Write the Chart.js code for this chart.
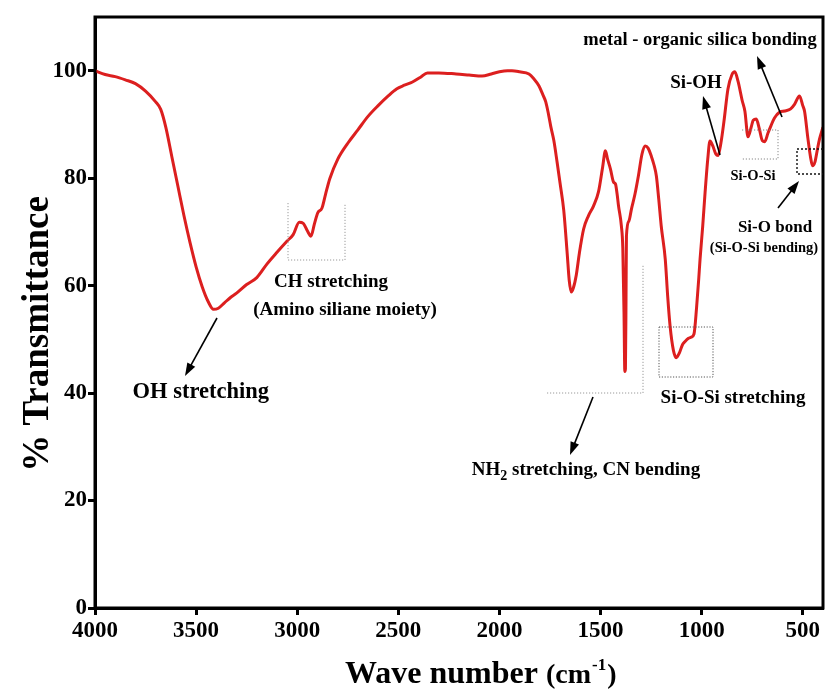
<!DOCTYPE html>
<html>
<head>
<meta charset="utf-8">
<title>FTIR spectrum</title>
<script src="https://cdn.jsdelivr.net/npm/chart.js@4.4.0/dist/chart.umd.min.js"></script>
<style>
  html, body { margin: 0; padding: 0; background: #fff; }
  #wrap { width: 825px; height: 690px; }
</style>
</head>
<body>
<div id="wrap"><canvas id="ftir" width="825" height="690"></canvas></div>
<script>
/* ---------- data ---------- */
const waveNumbers = [
  4000, 3950, 3900, 3850, 3800, 3750, 3700, 3675, 3650, 3620, 3590, 3560, 3530, 3500, 3470, 3440,
  3414, 3390, 3360, 3330, 3300, 3250, 3200, 3150, 3100, 3050, 3020, 2990, 2970, 2950, 2932, 2915,
  2898, 2878, 2860, 2839, 2800, 2750, 2700, 2650, 2600, 2550, 2509, 2470, 2430, 2390, 2356, 2300,
  2214, 2150, 2086, 2040, 2000, 1960, 1938, 1900, 1854, 1830, 1805, 1785, 1771, 1758, 1746, 1731,
  1715, 1700, 1682, 1665, 1655, 1645, 1635, 1620, 1605, 1584, 1560, 1535, 1510, 1490, 1476, 1465,
  1451, 1436, 1426, 1418, 1411, 1397, 1390, 1384, 1380, 1377, 1374, 1372, 1360, 1347, 1330, 1313,
  1295, 1279, 1265, 1249, 1236, 1224, 1212, 1200, 1180, 1168, 1156, 1140, 1126, 1110, 1095, 1082,
  1065, 1052, 1038, 1025, 1015, 1008, 995, 983, 970, 959, 945, 930, 919, 905, 890, 870,
  850, 836, 820, 800, 786, 771, 755, 745, 730, 715, 700, 688, 672, 658, 640, 614,
  590, 560, 540, 516, 500, 491, 475, 462, 452, 440, 428, 417, 400
];
const transmittance = [
  100.0, 99.3, 98.9, 98.3, 97.6, 96.2, 94.2, 92.8, 89.5, 84.0, 78.5, 73.0, 68.0, 63.5, 59.8, 57.0,
  55.6, 55.8, 56.8, 57.8, 58.6, 60.2, 61.5, 64.0, 66.2, 68.3, 69.5, 71.8, 71.6, 70.2, 69.2, 71.5,
  73.6, 74.4, 77.0, 79.9, 83.5, 86.5, 89.0, 91.5, 93.5, 95.3, 96.6, 97.3, 97.9, 98.8, 99.6, 99.6,
  99.4, 99.2, 99.0, 99.4, 99.8, 100.0, 100.0, 99.8, 99.4, 98.5, 97.2, 95.5, 94.2, 92.0, 89.6, 87.0,
  83.0, 79.0, 74.0, 66.0, 61.0, 58.8, 59.5, 62.0, 66.0, 70.5, 73.0, 74.8, 77.5, 82.0, 85.1, 83.5,
  81.7, 79.3, 78.9, 77.0, 74.8, 71.1, 67.0, 55.0, 44.0, 44.5, 58.0, 69.2, 72.0, 74.3, 77.0, 80.4,
  84.5, 86.0, 85.6, 84.1, 82.5, 80.4, 76.0, 71.1, 64.9, 58.0, 52.4, 48.0, 46.6, 47.5, 49.0, 49.6,
  50.2, 50.4, 51.0, 56.0, 61.0, 64.9, 71.0, 77.4, 83.5, 86.9, 86.0, 84.5, 84.2, 86.5, 90.5, 96.6,
  99.3, 99.8, 98.0, 94.5, 92.4, 87.7, 89.5, 90.8, 91.0, 89.2, 87.0, 86.8, 88.4, 89.7, 91.2, 92.3,
  92.5, 92.9, 93.8, 95.3, 93.5, 92.4, 87.5, 84.0, 82.3, 83.0, 85.3, 87.3, 89.5
];
const xTickValues = [4000, 3500, 3000, 2500, 2000, 1500, 1000, 500];
const yTickValues = [0, 20, 40, 60, 80, 100];

const SERIF = '"Liberation Serif", "Times New Roman", serif';
const INK = "#000";
const LINE_RED = "#dc1f1f";

/* ---------- drawing helpers ---------- */
function font(size, bold = true) { return `${bold ? "bold " : ""}${size}px ${SERIF}`; }

function txt(ctx, s, x, y, size, align = "center") {
  ctx.font = font(size);
  ctx.textAlign = align;
  ctx.textBaseline = "alphabetic";
  ctx.fillStyle = INK;
  ctx.fillText(s, x, y);
}

function arrow(ctx, x1, y1, x2, y2) {
  const a = Math.atan2(y2 - y1, x2 - x1), L = 13, W = 4.5;
  ctx.save();
  ctx.strokeStyle = INK; ctx.fillStyle = INK; ctx.lineWidth = 1.6;
  ctx.beginPath();
  ctx.moveTo(x1, y1);
  ctx.lineTo(x2 - Math.cos(a) * L * 0.8, y2 - Math.sin(a) * L * 0.8);
  ctx.stroke();
  ctx.beginPath();
  ctx.moveTo(x2, y2);
  ctx.lineTo(x2 - Math.cos(a) * L - Math.sin(a) * W, y2 - Math.sin(a) * L + Math.cos(a) * W);
  ctx.lineTo(x2 - Math.cos(a) * L + Math.sin(a) * W, y2 - Math.sin(a) * L - Math.cos(a) * W);
  ctx.closePath();
  ctx.fill();
  ctx.restore();
}

function dotted(ctx, pts, color, dash = [1.2, 1.8], w = 1) {
  ctx.save();
  ctx.strokeStyle = color; ctx.lineWidth = w; ctx.setLineDash(dash);
  ctx.beginPath();
  pts.forEach(([x, y], i) => (i ? ctx.lineTo(x, y) : ctx.moveTo(x, y)));
  ctx.stroke();
  ctx.restore();
}

/* frame, axis titles and the band labels */
const decor = {
  id: "decor",
  afterDraw(chart) {
    const ctx = chart.ctx, a = chart.chartArea;
    ctx.save();

    // box round the plot
    ctx.strokeStyle = INK; ctx.lineWidth = 3;
    ctx.strokeRect(a.left, a.top, a.right - a.left, a.bottom - a.top);

    // y title
    ctx.save();
    ctx.translate(35, 334);
    ctx.rotate(-Math.PI / 2);
    txt(ctx, "% Transmittance", 0, 13, 37);
    ctx.restore();

    // x title  Wave number (cm-1)
    let x = 345;
    const by = 683;
    ctx.font = font(32); ctx.textAlign = "left"; ctx.fillStyle = INK;
    ctx.fillText("Wave number ", x, by); x += ctx.measureText("Wave number ").width;
    ctx.font = font(28);
    ctx.fillText("(cm", x, by); x += ctx.measureText("(cm").width;
    ctx.font = font(17);
    ctx.fillText("-1", x + 1, by - 13); x += ctx.measureText("-1").width + 2;
    ctx.font = font(28);
    ctx.fillText(")", x, by);

    // OH stretching
    txt(ctx, "OH stretching", 269, 398, 22.5, "right");
    arrow(ctx, 217, 318, 185, 376);

    // CH stretching bracket
    dotted(ctx, [[288, 203], [288, 260], [345, 260], [345, 203]], "#9a9a9a");
    txt(ctx, "CH stretching", 331, 287, 19);
    txt(ctx, "(Amino siliane moiety)", 345, 315, 19);

    // NH2 bracket
    dotted(ctx, [[547, 393], [643, 393], [643, 265]], "#9a9a9a");
    arrow(ctx, 593, 397, 570, 455);
    {
      const parts = [["NH", 19, 0], ["2", 14, 5], [" stretching, CN bending", 19, 0]];
      ctx.textAlign = "left";
      let w = 0;
      parts.forEach(([s, sz]) => { ctx.font = font(sz); w += ctx.measureText(s).width; });
      let px = 586 - w / 2;
      parts.forEach(([s, sz, dy]) => { ctx.font = font(sz); ctx.fillText(s, px, 475 + dy); px += ctx.measureText(s).width; });
    }

    // Si-O-Si stretching box
    dotted(ctx, [[659, 327], [713, 327], [713, 377], [659, 377], [659, 327]], "#555", [1.2, 1.6]);
    txt(ctx, "Si-O-Si stretching", 733, 403, 19);

    // Si-OH
    txt(ctx, "Si-OH", 696, 88, 19);
    arrow(ctx, 720, 155, 703, 96);

    // metal - organic silica bonding
    txt(ctx, "metal - organic silica bonding", 700, 45, 18.5);
    arrow(ctx, 782, 117, 757, 56);

    // Si-O-Si small bracket
    dotted(ctx, [[742, 130], [778, 130], [778, 159], [742, 159]], "#888");
    txt(ctx, "Si-O-Si", 753, 180, 14.5);

    // Si-O bond box (open at the frame)
    dotted(ctx, [[823, 149], [797, 149], [797, 174], [823, 174]], "#111", [2, 2], 1.4);
    arrow(ctx, 778, 208, 799, 181);
    txt(ctx, "Si-O bond", 775, 232, 17);
    txt(ctx, "(Si-O-Si bending)", 764, 252, 14.5);

    ctx.restore();
  }
};

/* ---------- chart ---------- */
const points = waveNumbers.map((w, i) => ({ x: w, y: transmittance[i] }));
const tickFont = { family: SERIF, size: 23, weight: "bold" };

new Chart(document.getElementById("ftir"), {
  type: "line",
  data: {
    datasets: [{
      data: points,
      borderColor: LINE_RED,
      borderWidth: 3,
      pointRadius: 0,
      cubicInterpolationMode: "monotone",
      fill: false,
    }],
  },
  options: {
    responsive: false,
    animation: false,
    devicePixelRatio: 1,
    layout: { padding: { left: 35, top: 17, right: 2, bottom: 0 } },
    plugins: { legend: { display: false }, tooltip: { enabled: false } },
    scales: {
      x: {
        type: "linear", reverse: true, min: 400, max: 4000,
        afterBuildTicks: (s) => { s.ticks = xTickValues.map(v => ({ value: v })); },
        afterFit: (s) => { s.height = 82; },
        grid: { display: true, drawOnChartArea: false, drawTicks: true, tickLength: 7, tickWidth: 3, color: INK },
        border: { display: true, width: 3, color: INK },
        ticks: { color: INK, padding: 2, maxRotation: 0, autoSkip: false, font: tickFont, callback: (v) => String(v) },
      },
      y: {
        type: "linear", min: 0, max: 110,
        afterBuildTicks: (s) => { s.ticks = yTickValues.map(v => ({ value: v })); },
        afterFit: (s) => { s.width = 60; },
        grid: { display: true, drawOnChartArea: false, drawTicks: true, tickLength: 7, tickWidth: 3, color: INK },
        border: { display: true, width: 3, color: INK },
        ticks: { color: INK, padding: 1, autoSkip: false, font: tickFont, callback: (v) => String(v) },
      },
    },
  },
  plugins: [decor],
});
</script>
</body>
</html>
